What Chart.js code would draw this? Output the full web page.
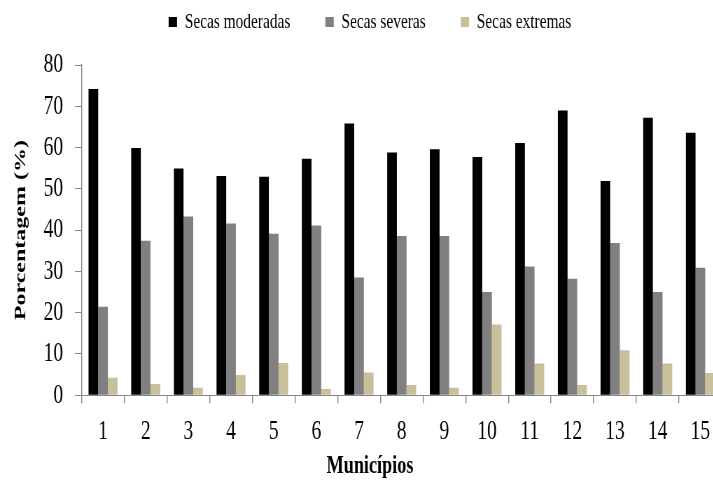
<!DOCTYPE html>
<html>
<head>
<meta charset="utf-8">
<script src="https://cdn.jsdelivr.net/npm/chart.js@4/dist/chart.umd.min.js"></script>
<style>
    html, body { margin: 0; padding: 0; overflow: hidden; background: #fff; }
    /* o gráfico original tem texto estreito: desenhamos mais largo e comprimimos na horizontal */
    #wrap { width: 1031px; height: 480px; transform: scaleX(0.7); transform-origin: 0 0; }
</style>
</head>
<body>
<div id="wrap"><canvas id="chart" width="1031" height="480"></canvas></div>
<script>
// Dados
const municipios = ["1", "2", "3", "4", "5", "6", "7", "8", "9", "10", "11", "12", "13", "14", "15"];
const secasModeradas = [74.2, 59.9, 54.9, 53.1, 52.9, 57.3, 65.8, 58.8, 59.6, 57.7, 61.1, 69.0, 51.9, 67.2, 63.6];
const secasSeveras = [21.4, 37.4, 43.3, 41.6, 39.1, 41.1, 28.5, 38.6, 38.6, 25.0, 31.2, 28.2, 36.9, 25.0, 30.9];
const secasExtremas = [4.2, 2.7, 1.8, 4.9, 7.8, 1.5, 5.5, 2.5, 1.8, 17.1, 7.7, 2.5, 10.9, 7.7, 5.4];

const fonte = "'Liberation Serif', 'Times New Roman', serif";
const cinzaEixo = '#868686';

// Espaço extra entre a legenda e o gráfico
const legendaEspaco = {
    id: 'legendaEspaco',
    beforeLayout(chart) {
        const leg = chart.legend;
        if (!leg || leg._espaco) return;
        const fit = leg.fit;
        leg.fit = function () {
            fit.call(this);
            this.height += 22;
        };
        leg._espaco = true;
    }
};

const ctx = document.getElementById('chart').getContext('2d');
new Chart(ctx, {
    type: 'bar',
    data: {
        labels: municipios,
        datasets: [
            { label: 'Secas moderadas', data: secasModeradas, backgroundColor: '#000000' },
            { label: 'Secas severas', data: secasSeveras, backgroundColor: '#808080' },
            { label: 'Secas extremas', data: secasExtremas, backgroundColor: '#c9c09a' }
        ]
    },
    options: {
        responsive: false,
        animation: false,
        devicePixelRatio: 1,
        layout: { padding: { top: -39, left: 26, right: 0, bottom: -2 } },
        datasets: {
            bar: { barPercentage: 1, categoryPercentage: 0.68, borderWidth: 0 }
        },
        plugins: {
            legend: {
                position: 'top',
                labels: {
                    color: '#000',
                    font: { family: fonte, size: 22 },
                    boxWidth: 12,
                    boxHeight: 10,
                    padding: 50
                }
            },
            title: {
                display: true,
                position: 'bottom',
                text: 'Municípios',
                color: '#000',
                font: { family: fonte, size: 26, weight: 'bold' },
                padding: { top: -10, bottom: 0 }
            },
            tooltip: { enabled: false }
        },
        scales: {
            x: {
                grid: {
                    display: true,
                    drawOnChartArea: false,
                    drawTicks: true,
                    tickLength: 8,
                    color: cinzaEixo,
                    lineWidth: 1.4
                },
                border: { display: true, color: cinzaEixo, width: 1 },
                ticks: {
                    color: '#000',
                    font: { family: fonte, size: 28 },
                    padding: 12,
                    maxRotation: 0,
                    autoSkip: false
                }
            },
            y: {
                min: 0,
                max: 80,
                ticks: {
                    stepSize: 10,
                    color: '#000',
                    font: { family: fonte, size: 28 },
                    padding: 17
                },
                grid: {
                    display: true,
                    drawOnChartArea: false,
                    drawTicks: true,
                    tickLength: 9.5,
                    color: cinzaEixo,
                    lineWidth: 1
                },
                border: { display: true, color: cinzaEixo, width: 1.4 },
                title: {
                    display: true,
                    text: 'Porcentagem (%)',
                    color: '#000',
                    font: { family: fonte, size: 24, weight: 'bold' },
                    padding: { top: -11, bottom: 0 }
                },
                afterFit(scale) {
                    scale.width = 90.7;
                }
            }
        }
    },
    plugins: [legendaEspaco]
});
</script>
</body>
</html>
